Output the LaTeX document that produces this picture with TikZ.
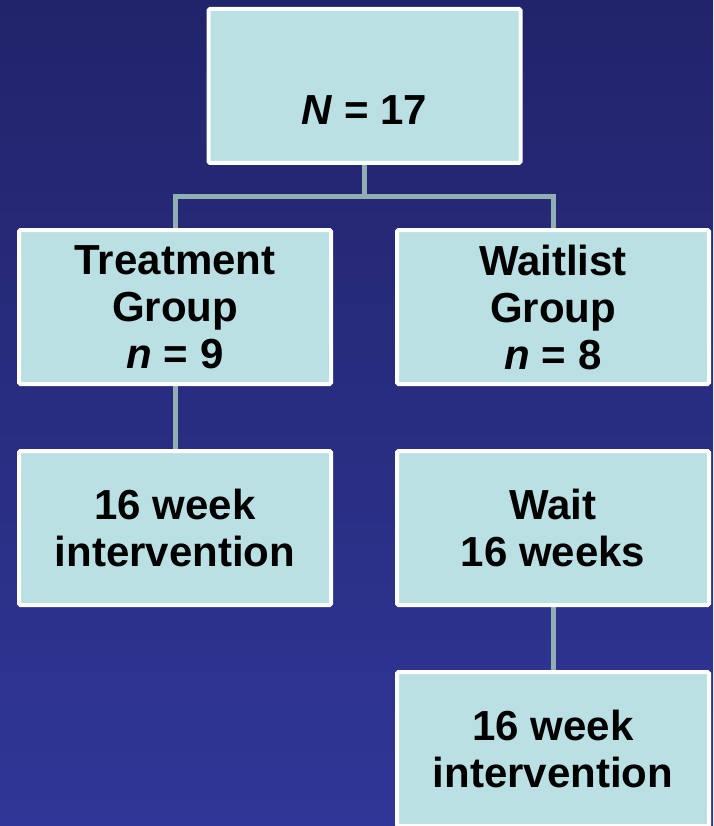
\documentclass[tikz,border=0pt]{standalone}
\usepackage{fontspec}
\setmainfont{Liberation Sans}
\usetikzlibrary{backgrounds}
\begin{document}
\begin{tikzpicture}[x=1pt,y=-1pt,
  box/.style={draw=white, line width=4pt, fill=boxfill, minimum width=312pt, minimum height=154pt,
    rounded corners=1.5pt, align=center, inner sep=0pt,
    font=\fontsize{42}{47}\selectfont\bfseries},
  link/.style={draw=linkc, line width=5pt}]
\definecolor{boxfill}{HTML}{BAE0E3}
\definecolor{linkc}{HTML}{8FAFB2}
\definecolor{bgtop}{HTML}{21246A}
\definecolor{bgbot}{HTML}{303697}
\useasboundingbox (0,0) rectangle (713,826);
\begin{scope}[on background layer]
\shade[top color=bgtop, bottom color=bgbot] (0,0) rectangle (713,826);
\end{scope}
\node[box] (top) at (364.5,86) {};
\node[font=\fontsize{42}{47}\selectfont\bfseries] (toplabel) at (364.5,110) {\textit{N} = 17};
\node[box] (treat) at (175,307) {Treatment\\Group\\\textit{n} = 9};
\node[box] (wait) at (553,307) {Waitlist\\Group\\\textit{n} = 8};
\node[box] (int1) at (175,528) {16 week\\intervention};
\node[box] (wait16) at (553,528) {Wait\\16 weeks};
\node[box] (int2) at (553,749) {16 week\\intervention};
\coordinate (split) at (364.5,197);
\begin{scope}[on background layer]
\path[link] (top.south) -- (split);
\path[link] (treat.north) |- (split) -| (wait.north);
\path[link] (treat.south) -- (int1.north);
\path[link] (wait16.south) -- (int2.north);
\end{scope}
\end{tikzpicture}
\end{document}
